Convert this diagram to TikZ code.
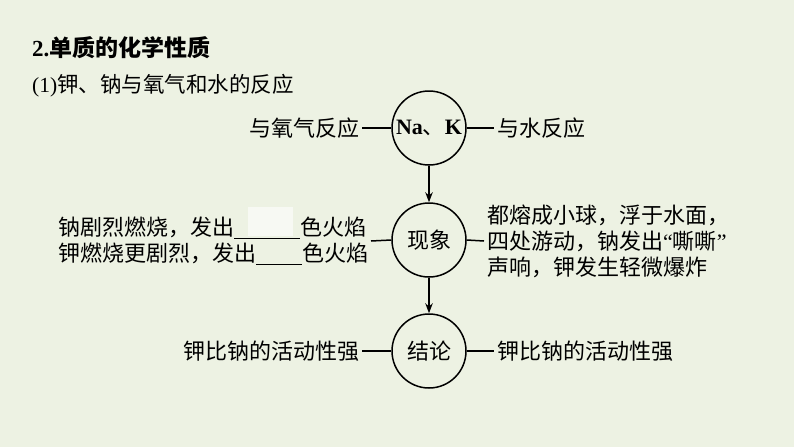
\documentclass[tikz,border=0pt]{standalone}
\usepackage{fontspec}
\setmainfont{Liberation Serif}
\newfontfamily\cjk{Noto Sans CJK SC}
\usetikzlibrary{arrows.meta}
\definecolor{bgc}{RGB}{237,242,227}
\definecolor{boxc}{RGB}{247,249,243}
\tikzset{
  circ/.style={circle, draw, line width=1.5pt, minimum size=74pt, inner sep=0pt,
    font=\fontsize{22}{26}\selectfont\cjk},
  lbl/.style={inner sep=0pt, outer sep=3pt, font=\fontsize{22}{26}\selectfont\cjk},
  blk/.style={inner sep=0pt, outer sep=3pt, align=left, font=\fontsize{22}{26}\selectfont\cjk},
  conn/.style={line width=1.5pt},
  arr/.style={line width=1.5pt, -{Stealth[length=10pt,width=7.5pt]}},
}
\begin{document}
\begin{tikzpicture}[x=1pt,y=-1pt]
\fill[bgc] (0,0) rectangle (794,447);
\useasboundingbox (0,0) rectangle (794,447);
% headings
\node[inner sep=0pt, anchor=west, font=\fontsize{23}{27}\selectfont] (title) at (32,48)
  {\textbf{2.}{\cjk\bfseries 单质的化学性质}};
\node[inner sep=0pt, anchor=west, font=\fontsize{21.5}{26}\selectfont] (sub) at (32,86)
  {(1){\cjk 钾、钠与氧气和水的反应}};
% circles
\node[circ] (nak) at (429,128) {{\rmfamily\bfseries Na}{\cjk 、}{\rmfamily\bfseries K}};
\node[circ] (phe) at (429,240) {现象};
\node[circ] (con) at (429,351) {结论};
% blank box
\fill[boxc] (248,207) rectangle (293,236);
% side texts
\node[lbl, anchor=east] (oxy) at (362,128) {与氧气反应};
\node[lbl, anchor=west] (wat) at (494,128) {与水反应};
\node[blk, anchor=east] (pl) at (371,241)
  {钠剧烈燃烧，发出\rule[-4pt]{66pt}{1.2pt}色火焰\\
   钾燃烧更剧烈，发出\rule[-4pt]{46pt}{1.2pt}色火焰};
\node[blk, anchor=west] (pr) at (484,241)
  {都熔成小球，浮于水面，\\
   四处游动，钠发出{\rmfamily “}嘶嘶{\rmfamily ”}\\
   声响，钾发生轻微爆炸};
\node[lbl, anchor=east] (cl) at (362,351) {钾比钠的活动性强};
\node[lbl, anchor=west] (cr) at (494,351) {钾比钠的活动性强};
% connectors
\draw[conn] (oxy.east) -- (nak.west);
\draw[conn] (nak.east) -- (wat.west);
\draw[conn] (pl.east) -- (phe.west);
\draw[conn] (phe.east) -- (pr.west);
\draw[conn] (cl.east) -- (con.west);
\draw[conn] (con.east) -- (cr.west);
\draw[arr] (nak.south) -- (phe.north);
\draw[arr] (phe.south) -- (con.north);
\end{tikzpicture}
\end{document}
